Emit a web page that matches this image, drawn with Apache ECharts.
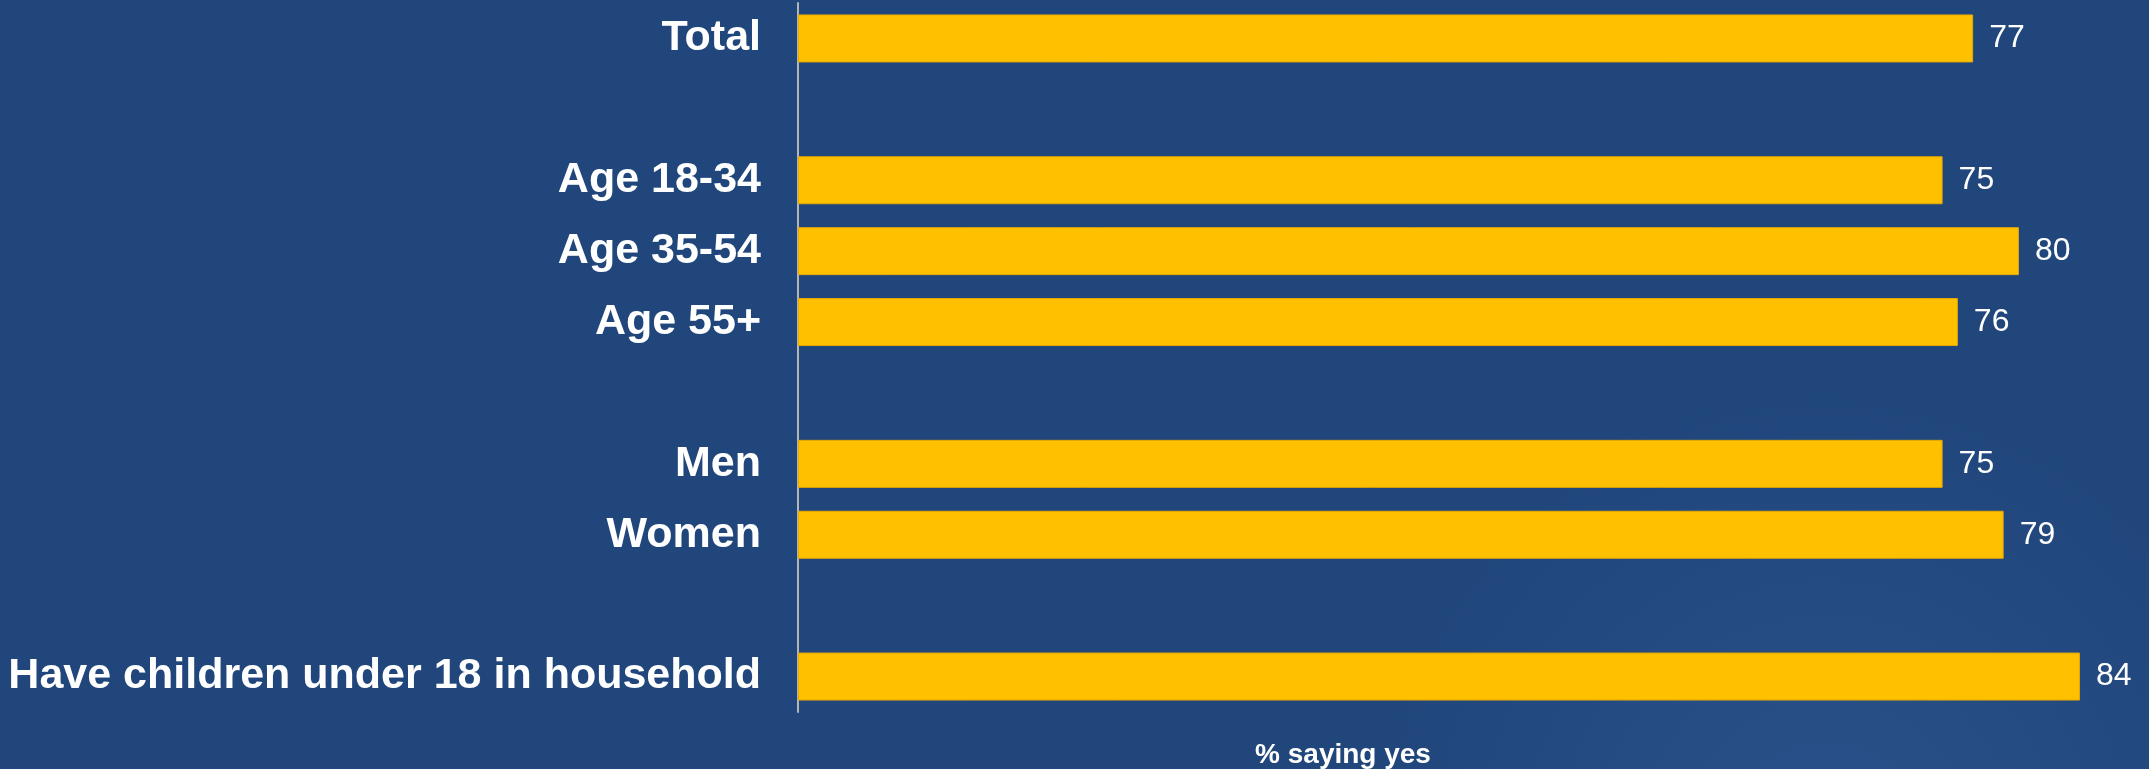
<!DOCTYPE html>
<html>
<head>
<meta charset="utf-8">
<script src="https://cdn.jsdelivr.net/npm/echarts@6/dist/echarts.min.js"></script>
<style>
  html, body { margin: 0; padding: 0; background: #20467c; }
  #chart { width: 2149px; height: 769px; }
</style>
</head>
<body>
<div id="chart"></div>
<script>
// rows top to bottom, blank rows are gaps between groups
const categories = ['Total', '', 'Age 18-34', 'Age 35-54', 'Age 55+', ' ', 'Men', 'Women', '  ', 'Have children under 18 in household']
const values = [77, null, 75, 80, 76, null, 75, 79, null, 84]
const axisTitle = '% saying yes'

const chart = echarts.init(document.getElementById('chart'), null, { renderer: 'canvas' })

chart.setOption({
  backgroundColor: {
    type: 'radial', x: 0.85, y: 1.1, r: 0.6,
    colorStops: [
      { offset: 0, color: '#2a5189' },
      { offset: 1, color: '#20467c' },
    ],
  },
  animation: false,
  title: {
    text: axisTitle,
    left: 1338,
    top: 736,
    textAlign: 'center',
    textStyle: { color: '#ffffff', fontSize: 28, fontWeight: 'bold', fontFamily: 'Liberation Sans, Arial, sans-serif' },
  },
  grid: { left: 798, right: 8, top: 3, height: 709 },
  xAxis: {
    type: 'value',
    min: 0,
    max: 88,
    show: false,
  },
  yAxis: {
    type: 'category',
    data: categories,
    inverse: true,
    axisLine: { show: true, lineStyle: { color: '#b4b4b4', width: 2 } },
    axisTick: { show: false },
    axisLabel: {
      color: '#ffffff',
      fontSize: 43,
      fontWeight: 'bold',
      fontFamily: 'Liberation Sans, Arial, sans-serif',
      margin: 37,
    },
  },
  series: [{
    type: 'bar',
    data: values,
    barWidth: 48,
    itemStyle: { color: '#ffc000', borderColor: '#e6a800', borderWidth: 1 },
    label: {
      show: true,
      position: 'right',
      distance: 16,
      color: '#ffffff',
      fontSize: 32,
      fontFamily: 'Liberation Sans, Arial, sans-serif',
    },
  }],
})
</script>
</body>
</html>
